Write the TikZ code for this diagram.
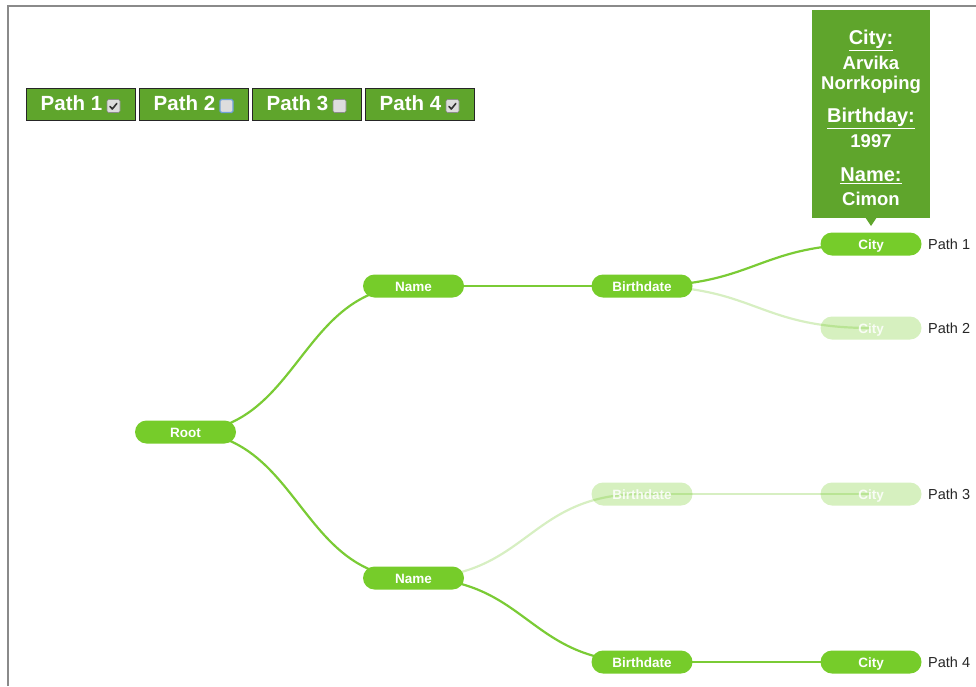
\documentclass[tikz,border=0pt]{standalone}
\usepackage{fontspec}
\setmainfont{Liberation Sans}
\usetikzlibrary{calc,backgrounds}
\definecolor{leaf}{HTML}{76CC2A}
\definecolor{linkgreen}{HTML}{7ACB35}
\definecolor{panel}{HTML}{5FA52C}
\definecolor{frame}{HTML}{8A8A8A}
\definecolor{boxgray}{HTML}{DDDDDD}
\definecolor{focusblue}{HTML}{6FA0D8}
\tikzset{
  treenode/.style={fill=leaf, text=white, rounded corners=11.5pt,
    minimum width=101pt, minimum height=23pt, inner sep=0pt,
    text height=11.5pt, text depth=0pt,
    font=\bfseries\fontsize{13.5}{16}\selectfont},
  faded/.style={fill opacity=0.3, text opacity=0.85},
  diag/.style={to path={let \p1=(\tikztostart), \p2=(\tikztotarget) in
      .. controls ({(\x1+\x2)/2},\y1) and ({(\x1+\x2)/2},\y2) .. (\tikztotarget)}},
  link/.style={draw=linkgreen, line width=2.2pt},
  fadedlink/.style={link, draw opacity=0.3},
  pathtag/.style={text=black!85, anchor=west, inner sep=0pt,
    font=\fontsize{14.5}{16}\selectfont},
  pathbtn/.style={fill=panel, draw=black!85, line width=1pt,
    minimum width=109pt, minimum height=32pt, inner sep=0pt},
  btntext/.style={text=white, inner sep=0pt, font=\bfseries\fontsize{20.5}{22}\selectfont},
  checkbox/.style={fill=boxgray, draw=black!45, line width=0.6pt, rounded corners=1.5pt,
    minimum width=13pt, minimum height=13pt, inner sep=0pt},
  tiphead/.style={text=white, inner sep=0pt, font=\bfseries\fontsize{20}{22}\selectfont},
  tipvalue/.style={text=white, inner sep=0pt, font=\bfseries\fontsize{18.5}{20}\selectfont},
}
\begin{document}
\begin{tikzpicture}[x=1pt, y=-1pt]
\useasboundingbox (0,0) rectangle (976,686);

% outer frame (top and left edges)
\draw[frame, line width=2pt] (8,686) -- (8,6) -- (976,6);

% tree nodes
\node[treenode] (root) at (185.5,432) {Root};
\node[treenode] (nameA) at (413.5,286) {Name};
\node[treenode] (nameB) at (413.5,578) {Name};
\node[treenode] (birthA) at (642,286) {Birthdate};
\node[treenode, faded] (birthB) at (642,494) {Birthdate};
\node[treenode] (birthC) at (642,662) {Birthdate};
\node[treenode] (city1) at (871,244) {City};
\node[treenode, faded] (city2) at (871,328) {City};
\node[treenode, faded] (city3) at (871,494) {City};
\node[treenode] (city4) at (871,662) {City};

% path labels
\node[pathtag] (tag1) at (928,244) {Path 1};
\node[pathtag] (tag2) at (928,328) {Path 2};
\node[pathtag] (tag3) at (928,494) {Path 3};
\node[pathtag] (tag4) at (928,662) {Path 4};

% links, kept beneath the nodes
\begin{pgfonlayer}{background}
\draw[fadedlink] (birthA.center) to[diag] (city2.center);
\draw[fadedlink] (nameB.center) to[diag] (birthB.center);
\draw[fadedlink] (birthB.center) to[diag] (city3.center);
\draw[link] (root.center) to[diag] (nameA.center);
\draw[link] (root.center) to[diag] (nameB.center);
\draw[link] (nameA.center) to[diag] (birthA.center);
\draw[link] (birthA.center) to[diag] (city1.center);
\draw[link] (nameB.center) to[diag] (birthC.center);
\draw[link] (birthC.center) to[diag] (city4.center);
\end{pgfonlayer}

% path toggle buttons
\node[pathbtn] (btn1) at (80.5,104) {};
\node[pathbtn] (btn2) at (193.5,104) {};
\node[pathbtn] (btn3) at (306.5,104) {};
\node[pathbtn] (btn4) at (419.5,104) {};
\node[btntext] (bt1) at (71.5,103.5) {Path 1};
\node[btntext] (bt2) at (184.5,103.5) {Path 2};
\node[btntext] (bt3) at (297.5,103.5) {Path 3};
\node[btntext] (bt4) at (410.5,103.5) {Path 4};
\node[checkbox] (cb1) at (113.5,106) {};
\node[checkbox, draw=focusblue, line width=1.2pt] (cb2) at (226.5,106) {};
\node[checkbox] (cb3) at (339.5,106) {};
\node[checkbox] (cb4) at (452.5,106) {};
\draw[black!80, line width=1.6pt, line cap=round, line join=round]
  ($(cb1.center)+(-3.5,0.5)$) -- ++(2.3,2.5) -- ++(4.5,-5.5);
\draw[black!80, line width=1.6pt, line cap=round, line join=round]
  ($(cb4.center)+(-3.5,0.5)$) -- ++(2.3,2.5) -- ++(4.5,-5.5);

% tooltip above the first city
\fill[panel] (812,10) rectangle (930,218);
\coordinate (tipend) at (871,226);
\fill[panel] (865,217) -- (tipend) -- (877,217) -- cycle;
\node[tiphead] (tcityh) at (871,40) {\underline{City:}};
\node[tipvalue] (tcity1) at (871,63) {Arvika};
\node[tipvalue] (tcity2) at (871,84.5) {Norrkoping};
\node[tiphead] (tbirthh) at (871,118) {\underline{Birthday:}};
\node[tipvalue] (tbirth) at (871,141.5) {1997};
\node[tiphead] (tnameh) at (871,176) {\underline{Name:}};
\node[tipvalue] (tname) at (871,199) {Cimon};
\end{tikzpicture}
\end{document}
